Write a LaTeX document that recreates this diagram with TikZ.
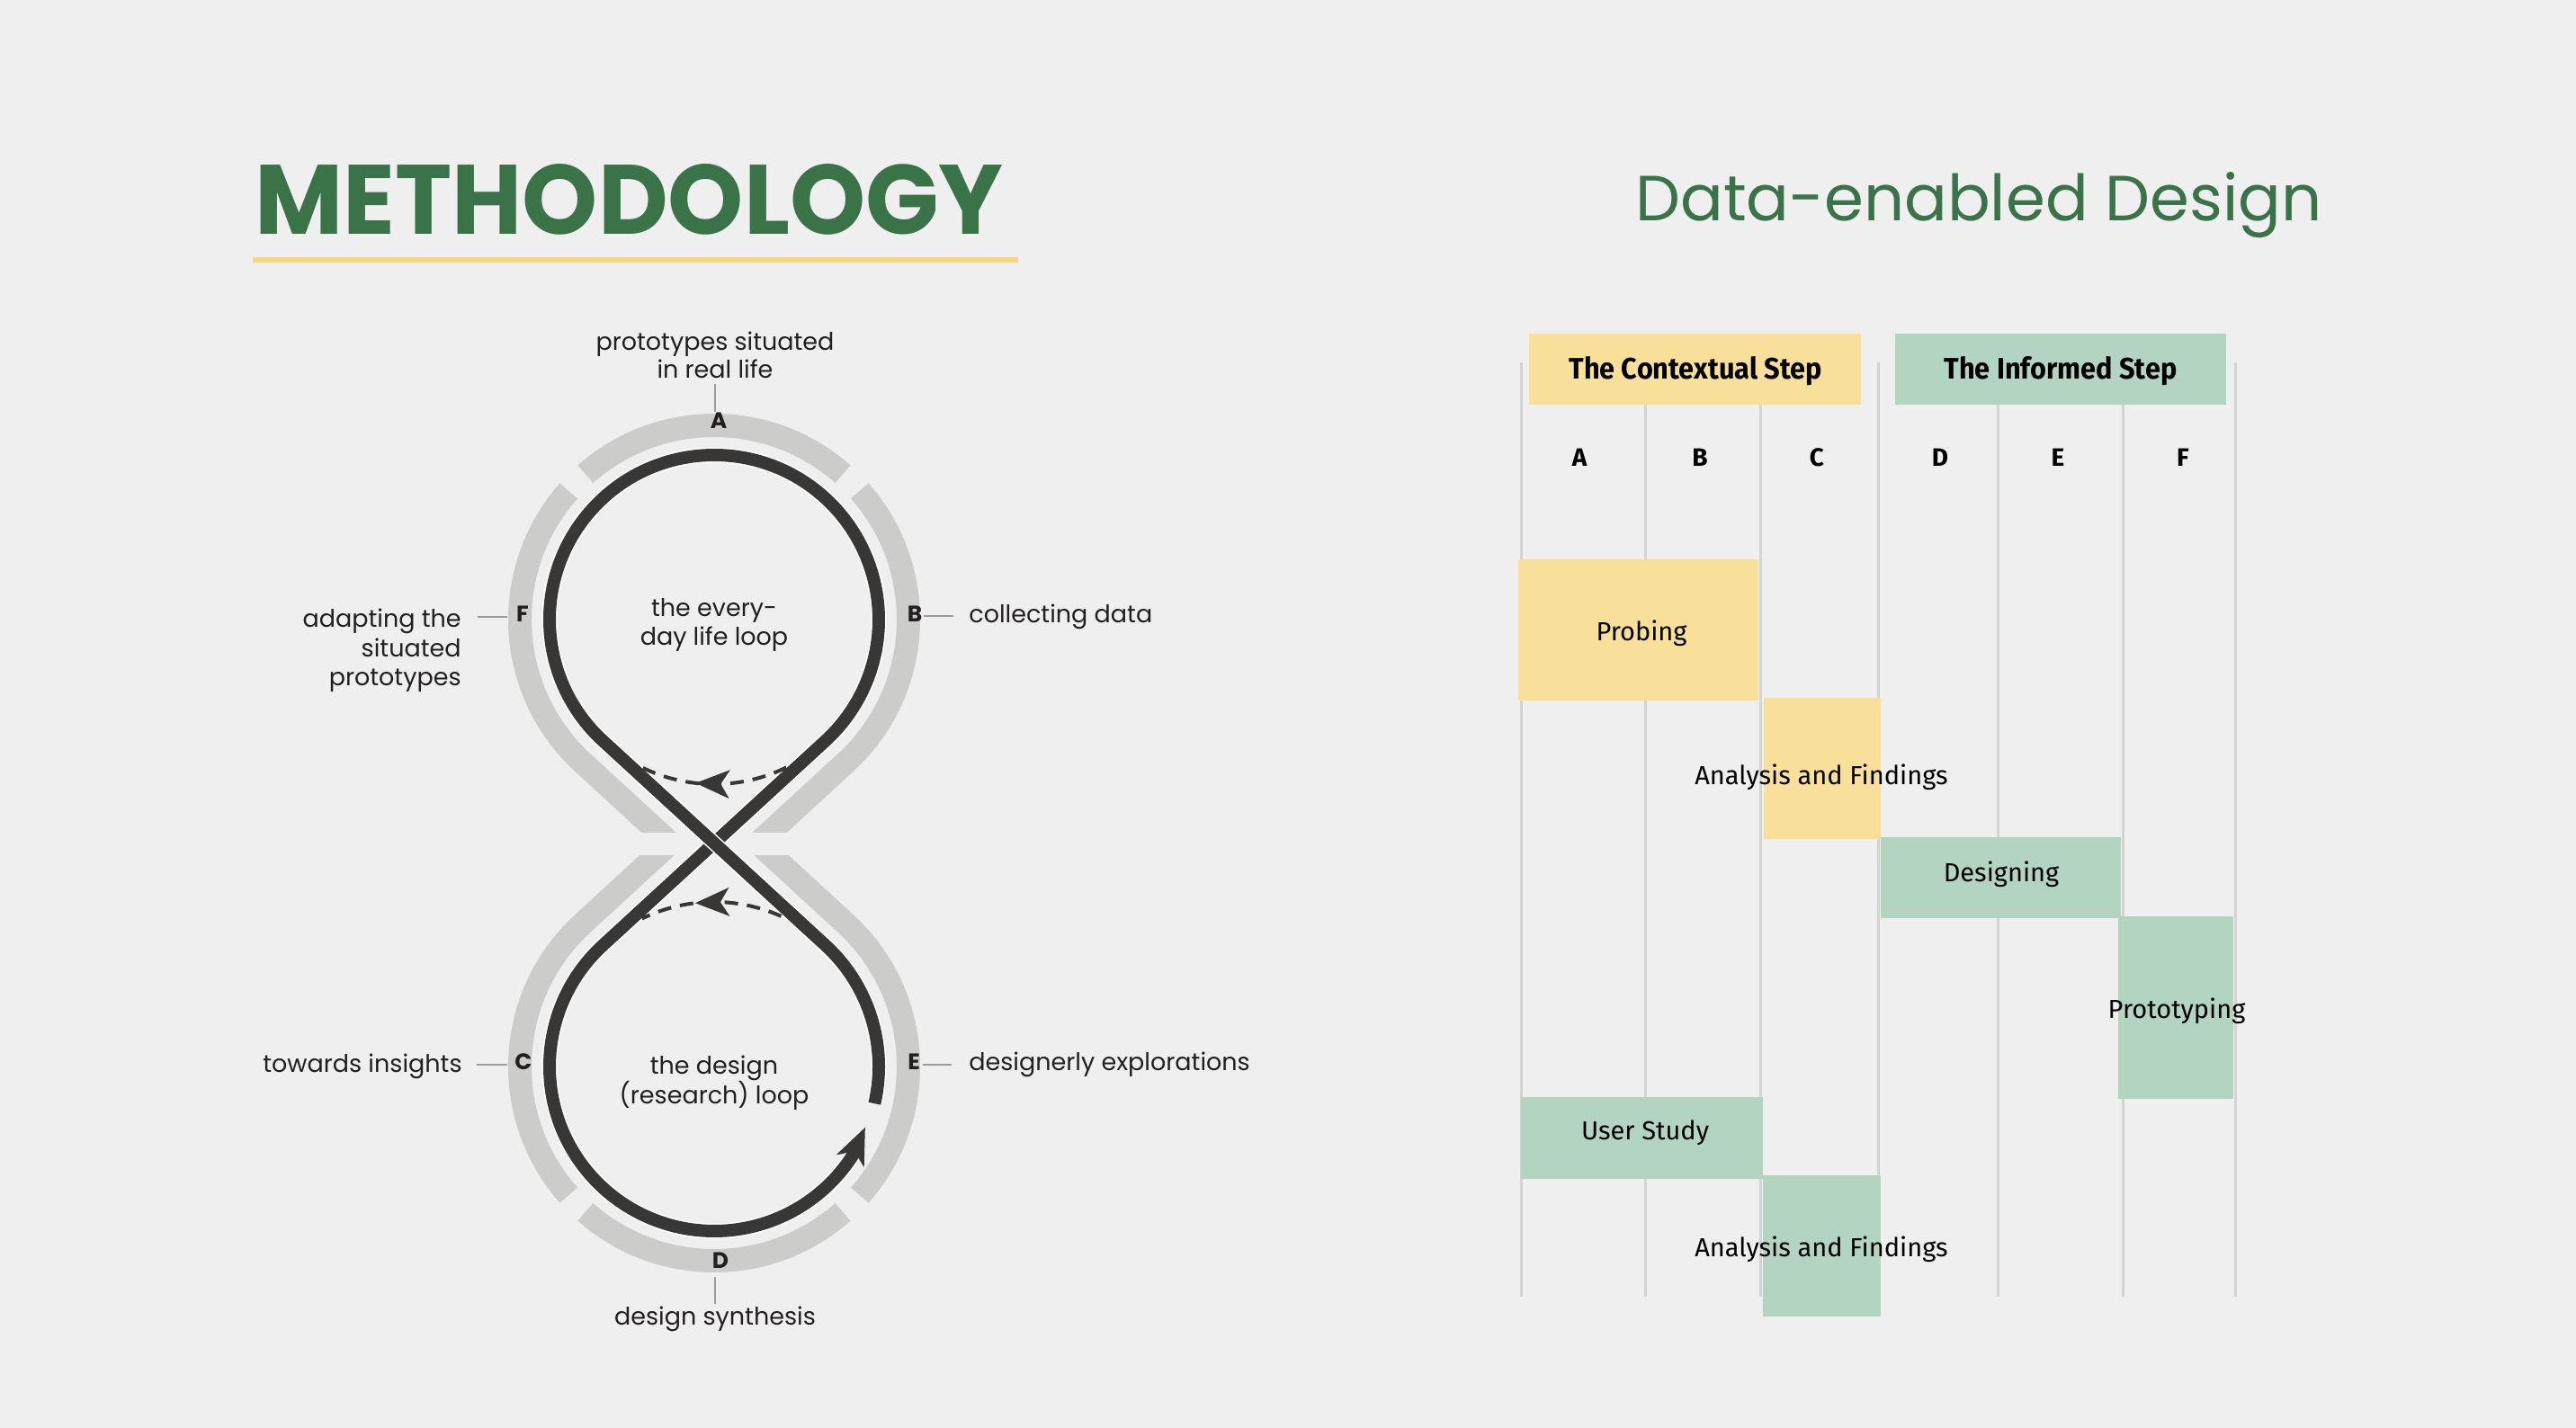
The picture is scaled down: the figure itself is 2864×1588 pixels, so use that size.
\documentclass[tikz,border=0pt]{standalone}
\usepackage{graphicx}
\usepackage{fontspec}
\setmainfont{Poppins}
\newfontfamily\firafont{Fira Sans}
\usetikzlibrary{calc}
\definecolor{bgc}{HTML}{EFEFEF}
\definecolor{titlegreen}{HTML}{3B7349}
\definecolor{lineyellow}{HTML}{F6D77E}
\definecolor{darkc}{HTML}{383735}
\definecolor{ringc}{HTML}{CCCCCA}
\definecolor{txtc}{HTML}{231F20}
\definecolor{leadc}{HTML}{9C9C9C}
\definecolor{boxyellow}{HTML}{F8E09B}
\definecolor{boxgreen}{HTML}{B2D4C0}
\definecolor{gridc}{HTML}{D4D4D4}
\begin{document}
\begin{tikzpicture}[x=0.5pt,y=0.5pt,
  gring/.style={draw=ringc,line width=13pt,line cap=butt},
  darkline/.style={draw=darkc,line width=7pt,line cap=butt,line join=round},
  whiteline/.style={draw=white,line width=8.5pt,line cap=butt,line join=round},
  dashline/.style={draw=darkc,line width=2pt,dash pattern=on 7.5pt off 5pt},
  leader/.style={draw=leadc,line width=0.6pt},
  lbl/.style={inner sep=0pt,text=txtc,font=\fontsize{13.5}{16}\selectfont},
  letter/.style={inner sep=0pt,text=txtc,font=\fontsize{12.5}{14}\selectfont\bfseries},
  gridl/.style={draw=gridc,line width=1.5pt},
  bartxt/.style={inner sep=0pt,anchor=base,text=black,font=\firafont\fontsize{14.5}{17}\selectfont},
  hdrtxt/.style={inner sep=0pt,anchor=base,text=black,font=\firafont\bfseries\fontsize{16.5}{19}\selectfont},
  coltxt/.style={inner sep=0pt,anchor=base,text=black,font=\firafont\bfseries\fontsize{14}{17}\selectfont},
]
\fill[bgc] (0,0) rectangle (2864,-1588);
\useasboundingbox (0,0) rectangle (2864,-1588);

% titles
\node[anchor=base west,inner sep=0pt,text=titlegreen] (meth) at (283,-261) {\resizebox{416pt}{39pt}{\bfseries METHODOLOGY}};
\fill[lineyellow] (281,-286) rectangle (1132,-292);
\node[anchor=base west,inner sep=0pt,text=titlegreen] (ded) at (1818,-246) {\resizebox{381.5pt}{27pt}{Data-enabled Design}};

% ---------- loop ----------
\coordinate (U) at (794,-689);
\coordinate (L) at (794,-1186);

\begin{scope}
\clip (0,0) rectangle (2864,-925);
\draw[gring] ($(U)+(48.5:216)$) arc[start angle=48.5,end angle=131.5,radius=216];
\draw[gring] ($(U)+(138.5:216)$) arc[start angle=138.5,end angle=227.4,radius=216] -- ++(317.4:200);
\draw[gring] ($(U)+(41.5:216)$) arc[start angle=41.5,end angle=-47.4,radius=216] -- ++(222.6:200);
\end{scope}
\begin{scope}
\clip (0,-951) rectangle (2864,-1588);
\draw[gring] ($(L)+(221.5:216)$) arc[start angle=221.5,end angle=132.6,radius=216] -- ++(42.6:200);
\draw[gring] ($(L)+(228.5:216)$) arc[start angle=228.5,end angle=311.5,radius=216];
\draw[gring] ($(L)+(318.5:216)$) arc[start angle=318.5,end angle=407.4,radius=216] -- ++(137.4:200);
\end{scope}

\coordinate (Lr) at ($(L)+(47.4:183)$);
\coordinate (Ul) at ($(U)+(227.4:183)$);
\coordinate (Ur) at ($(U)+(-47.4:183)$);
\coordinate (Ll) at ($(L)+(132.6:183)$);

\draw[whiteline] ($(L)+(347:183)$) arc[start angle=347,end angle=407.4,radius=183] -- (Ul)
  arc[start angle=227.4,end angle=-47.4,radius=183] -- (Ll)
  arc[start angle=132.6,end angle=326,radius=183];
\draw[darkline] ($(L)+(347:183)$) arc[start angle=347,end angle=407.4,radius=183] -- (Ul)
  arc[start angle=227.4,end angle=-47.4,radius=183] -- (Ll)
  arc[start angle=132.6,end angle=330,radius=183];
% crossing: the \ stroke on top
\draw[whiteline] ($(Lr)!0.3!(Ul)$) -- ($(Lr)!0.7!(Ul)$);
\draw[darkline] ($(Lr)!0.29!(Ul)$) -- ($(Lr)!0.71!(Ul)$);
% main arrowhead
\fill[darkc,shift={($(L)+(338:181)$)},rotate=66] (0,0) -- (-41,17) -- (-29,0) -- (-41,-17) -- cycle;

% dashed arrows
\draw[dashline] ($(U)+(296:183)$) arc[start angle=296,end angle=244,radius=183];
\fill[darkc,shift={($(U)+(263.5:183)$)},rotate=178] (0,0) -- (-38,16) -- (-28,0) -- (-38,-16) -- cycle;
\draw[dashline] ($(L)+(66:183)$) arc[start angle=66,end angle=116,radius=183];
\fill[darkc,shift={($(L)+(96.6:183)$)},rotate=182] (0,0) -- (-38,16) -- (-28,0) -- (-38,-16) -- cycle;

% letters
\node[letter] (A) at (799,-468) {A};
\node[letter] (B) at (1017,-683) {B};
\node[letter] (C) at (582,-1181) {C};
\node[letter] (D) at (801,-1402) {D};
\node[letter] (E) at (1016,-1181) {E};
\node[letter] (F) at (581,-683) {F};

% labels
\node[lbl,anchor=base] (tA1) at (795,-390) {prototypes situated};
\node[lbl,anchor=base] (tA2) at (795,-421) {in real life};
\node[lbl,anchor=base west] (tB) at (1077,-692) {collecting data};
\node[lbl,anchor=base east] (tF1) at (513,-697) {adapting the};
\node[lbl,anchor=base east] (tF2) at (513,-730) {situated};
\node[lbl,anchor=base east] (tF3) at (513,-762) {prototypes};
\node[lbl,anchor=base east] (tC) at (514,-1192) {towards insights};
\node[lbl,anchor=base west] (tE) at (1077,-1190) {designerly explorations};
\node[lbl,anchor=base] (tD) at (795,-1473) {design synthesis};
\node[lbl,anchor=base] (in1) at (794,-685) {the every-};
\node[lbl,anchor=base] (in2) at (794,-717) {day life loop};
\node[lbl,anchor=base] (in3) at (794,-1194) {the design};
\node[lbl,anchor=base] (in4) at (794,-1227) {(research) loop};

% leaders
\draw[leader] (tA2.south |- 0,-427) -- (tA2.south |- 0,-458);
\draw[leader] ($(B.east)+(1,-2)$) -- ($(B.east)+(34,-2)$);
\draw[leader] ($(F.west)+(-10,-3)$) -- ($(F.west)+(-43,-3)$);
\draw[leader] ($(C.west)+(-8,-3)$) -- ($(C.west)+(-42,-3)$);
\draw[leader] ($(E.east)+(3,-3)$) -- ($(E.east)+(35,-3)$);
\draw[leader] (795,-1420) -- (tD.north |- 0,-1450);

% ---------- right: Data-enabled design chart ----------
\foreach \gx in {1691,1829,1957,2088,2221,2360,2485} \draw[gridl] (\gx,-403) -- (\gx,-1442);

\fill[boxyellow] (1700,-371) rectangle (2069,-450);
\fill[boxgreen] (2107,-371) rectangle (2475,-450);
\node[hdrtxt] (h1) at (1885,-422) {\scalebox{0.93}[1]{The Contextual Step}};
\node[hdrtxt] (h2) at (2291,-422) {\scalebox{0.93}[1]{The Informed Step}};

\node[coltxt] (cA) at (1756,-519) {A};
\node[coltxt] (cB) at (1890,-519) {B};
\node[coltxt] (cC) at (2020,-519) {C};
\node[coltxt] (cD) at (2157,-519) {D};
\node[coltxt] (cE) at (2288,-519) {E};
\node[coltxt] (cF) at (2427,-519) {F};

\fill[boxyellow] (1688,-622) rectangle (1955,-779);
\fill[boxyellow] (1961,-776) rectangle (2091,-933);
\fill[boxgreen] (2091,-931) rectangle (2358,-1021);
\fill[boxgreen] (2355,-1019) rectangle (2483,-1222);
\fill[boxgreen] (1691,-1220) rectangle (1960,-1311);
\fill[boxgreen] (1960,-1307) rectangle (2091,-1464);

\node[bartxt] (b1) at (1825,-712) {Probing};
\node[bartxt] (b2) at (2025,-872) {Analysis and Findings};
\node[bartxt] (b3) at (2225,-980) {Designing};
\node[bartxt] (b4) at (2420,-1132) {Prototyping};
\node[bartxt] (b5) at (1829,-1267) {User Study};
\node[bartxt] (b6) at (2025,-1397) {Analysis and Findings};
\end{tikzpicture}
\end{document}
